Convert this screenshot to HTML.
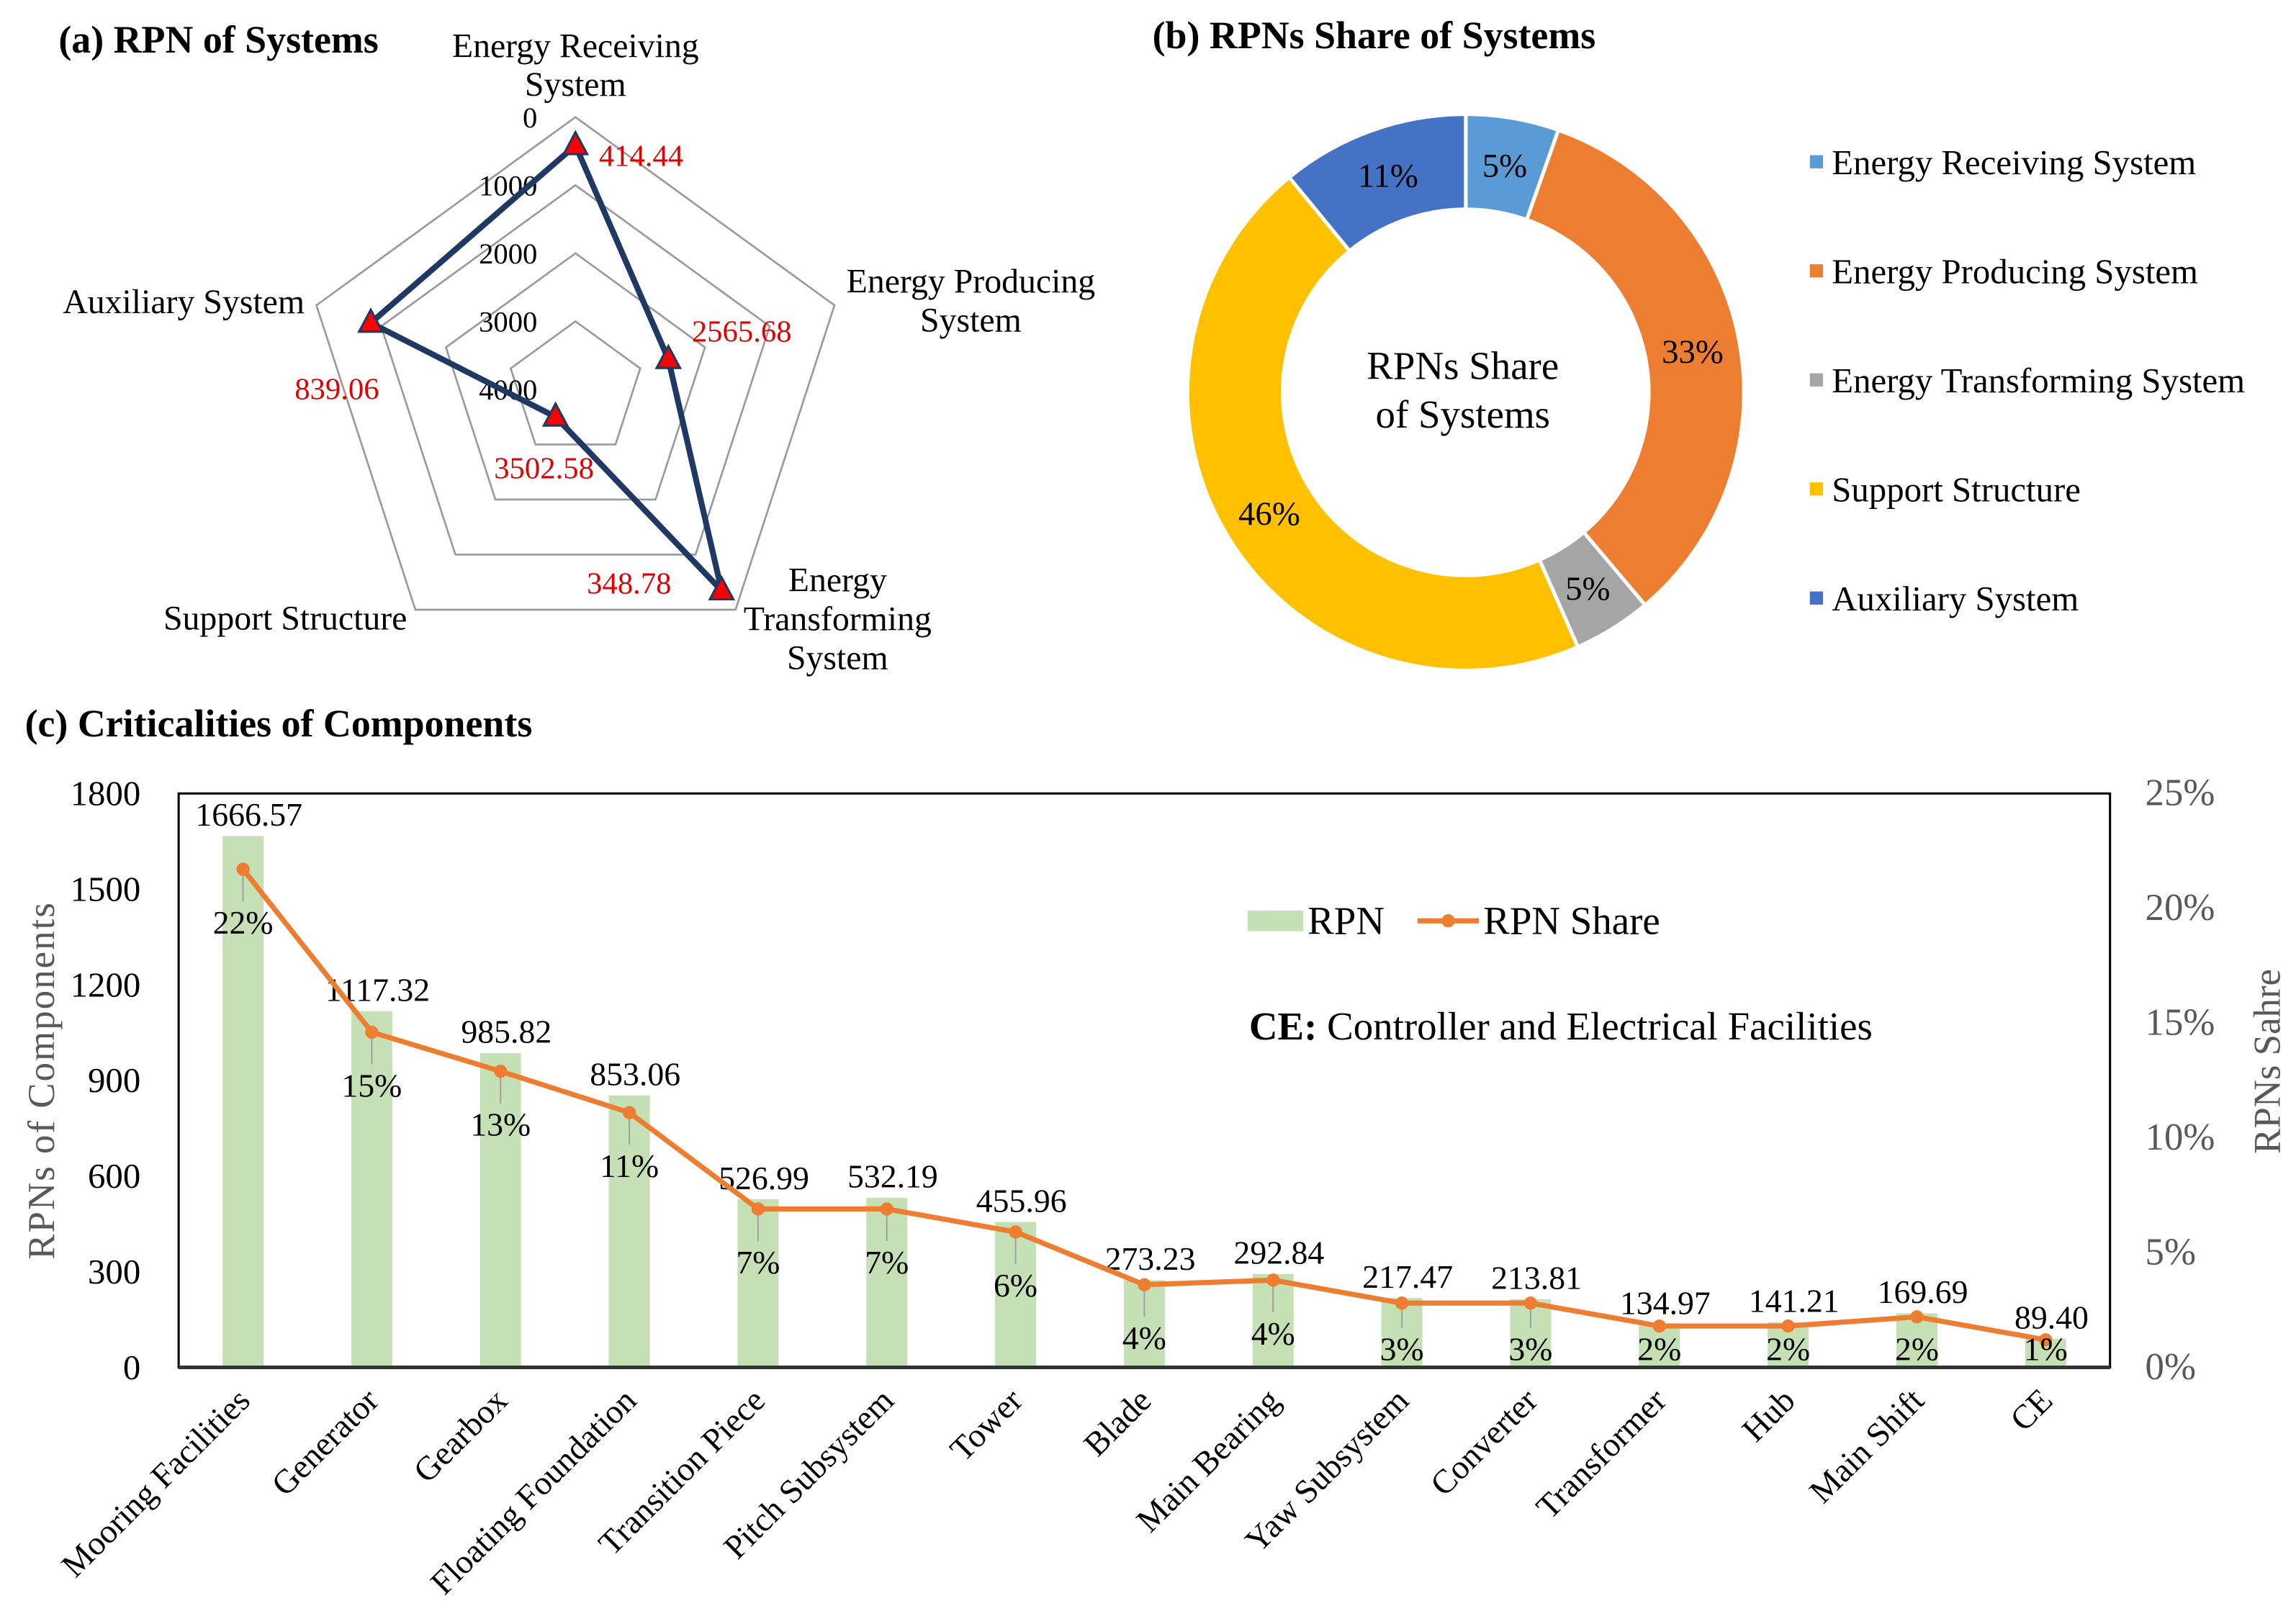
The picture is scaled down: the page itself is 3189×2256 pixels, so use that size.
<!DOCTYPE html>
<html><head><meta charset="utf-8"><style>
html,body{margin:0;padding:0;background:#fff;}
svg{display:block;font-family:"Liberation Serif",serif;}
</style></head><body>
<svg id="fig" width="3189" height="2256" viewBox="0 0 1568 1109.3" preserveAspectRatio="none" xmlns="http://www.w3.org/2000/svg">
<rect width="1568" height="1110" fill="#fff"/>
<text x="40" y="36" font-size="26.5" font-weight="bold">(a) RPN of Systems</text>
<text x="787" y="33" font-size="26.5" font-weight="bold">(b) RPNs Share of Systems</text>
<text x="17" y="503" font-size="26.5" font-weight="bold">(c) Criticalities of Components</text>
<g id="radar"></g>
<g id="donut"></g>
<g id="combo"></g>
</svg>
<script>
const NS="http://www.w3.org/2000/svg";
// ---- radar data ----
const sysNames=["Energy Receiving System","Energy Producing System","Energy Transforming System","Support Structure","Auxiliary System"];
const sysRPN=[414.44,2565.68,348.78,3502.58,839.06];
const sysLabels=["414.44","2565.68","348.78","3502.58","839.06"];
const radarTicks=[0,1000,2000,3000,4000];
// ---- donut data ----
const donutColors=["#5B9BD5","#ED7D31","#A5A5A5","#FFC000","#4472C4"];
const donutPct=["5%","33%","5%","46%","11%"];
const legendNames=["Energy Receiving System","Energy Producing System","Energy Transforming System","Support Structure","Auxiliary System"];
// ---- combo data ----
const comps=["Mooring Facilities","Generator","Gearbox","Floating Foundation","Transition Piece","Pitch Subsystem","Tower","Blade","Main Bearing","Yaw Subsystem","Converter","Transformer","Hub","Main Shift","CE"];
const compRPN=[1666.57,1117.32,985.82,853.06,526.99,532.19,455.96,273.23,292.84,217.47,213.81,134.97,141.21,169.69,89.40];
const compShare=[21.7,14.6,12.9,11.1,6.9,6.9,5.9,3.6,3.8,2.8,2.8,1.8,1.8,2.2,1.2];
const shareLabels=["22%","15%","13%","11%","7%","7%","6%","4%","4%","3%","3%","2%","2%","2%","1%"];
const leftTicks=[0,300,600,900,1200,1500,1800];
const rightTicks=[0,5,10,15,20,25];

function mk(tag,attrs,parent,txt){const e=document.createElementNS(NS,tag);for(const k in attrs)e.setAttribute(k,attrs[k]);if(txt!==undefined)e.textContent=txt;parent.appendChild(e);return e;}

// ===== Radar =====
(function(){
const g=document.getElementById('radar');
const cx=393,cy=266,R=186,maxV=4000;
const ang=i=>(-90+72*i)*Math.PI/180;
const rOf=v=>R*(1-v/maxV);
const pt=(i,v)=>[cx+rOf(v)*Math.cos(ang(i)),cy+rOf(v)*Math.sin(ang(i))];
radarTicks.forEach(t=>{
 const pts=sysNames.map((_,i)=>pt(i,t).join(',')).join(' ');
 const p=mk('polygon',{points:pts,fill:'none',stroke:'#9a9a9a','stroke-width':1.3},g);
 
 
 const [x,y]=pt(0,t);
 const tl=mk('text',{x:x-26,y:y+7,'font-size':20,'text-anchor':'end'},g,String(t));
 
 
});
const dp=sysRPN.map((v,i)=>pt(i,v).join(',')).join(' ');
const poly=mk('polygon',{points:dp,fill:'none',stroke:'#1F3864','stroke-width':4,'stroke-linejoin':'round'},g);


const lblOff=[[16,14],[16,-12],[-92,2],[-42,42],[-52,52]];
sysRPN.forEach((v,i)=>{
 const [x,y]=pt(i,v);
 const m=mk('polygon',{points:`${x},${y-9} ${x-8},${y+6} ${x+8},${y+6}`,fill:'#FF0000',stroke:'#1F3864','stroke-width':1.5},g);
 
 
 const l=mk('text',{x:x+lblOff[i][0],y:y+lblOff[i][1],'font-size':21,fill:'#E00000'},g,sysLabels[i]);
 
 
});
const axLab=[[[393,39],["Energy Receiving","System"],'middle'],[[663,200],["Energy Producing","System"],'middle'],[[572,404],["Energy","Transforming","System"],'middle'],[[278,430],["Support Structure"],'end'],[[208,214],["Auxiliary System"],'end']];
axLab.forEach(a=>{
 a[1].forEach((s,j)=>{
  const t=mk('text',{x:a[0][0],y:a[0][1]+j*26.5,'font-size':23.5,'text-anchor':a[2]},g,s);
  
  
 });
});
})();

// ===== Donut =====
(function(){
const g=document.getElementById('donut');
const cx=1001,cy=268,Ro=190,Ri=125;
const tot=sysRPN.reduce((a,b)=>a+b,0);
let a0=-Math.PI/2;
sysRPN.forEach((v,i)=>{
 const a1=a0+v/tot*2*Math.PI;
 const large=(a1-a0)>Math.PI?1:0;
 const p=(r,a)=>[cx+r*Math.cos(a),cy+r*Math.sin(a)];
 const [x1,y1]=p(Ro,a0),[x2,y2]=p(Ro,a1),[x3,y3]=p(Ri,a1),[x4,y4]=p(Ri,a0);
 const s=mk('path',{d:`M${x1},${y1} A${Ro},${Ro} 0 ${large} 1 ${x2},${y2} L${x3},${y3} A${Ri},${Ri} 0 ${large} 0 ${x4},${y4} Z`,fill:donutColors[i],stroke:'#fff','stroke-width':2.5},g);
 
 
 const am=(a0+a1)/2,[lx,ly]=p((Ro+Ri)/2,am);
 const t=mk('text',{x:lx,y:ly+8,'font-size':23,'text-anchor':'middle'},g,donutPct[i]);
 
 
 a0=a1;
});
const c1=mk('text',{x:cx-2,y:259,'font-size':27,'text-anchor':'middle'},g,'RPNs Share');


const c2=mk('text',{x:cx-2,y:292,'font-size':27,'text-anchor':'middle'},g,'of Systems');


legendNames.forEach((n,i)=>{
 const y=111+i*74.5;
 const r=mk('rect',{x:1236,y:y-5,width:9,height:9,fill:donutColors[i]},g);
 
 
 const t=mk('text',{x:1251,y:y+8,'font-size':24},g,n);
 
 
});
})();

// ===== Combo chart =====
(function(){
const g=document.getElementById('combo');
const L=122,Rr=1441,T=542,B=934;
const xC=i=>L+(Rr-L)/comps.length*(i+0.5);
const yL=v=>B-(v/1800)*(B-T);
const yR=v=>B-(v/25)*(B-T);
const box=mk('rect',{x:L,y:T,width:Rr-L,height:B-T,fill:'none',stroke:'#000','stroke-width':1.5},g);


leftTicks.forEach(t=>{
 const e=mk('text',{x:96,y:yL(t)+8,'font-size':24,'text-anchor':'end'},g,String(t));
 
 
});
rightTicks.forEach(t=>{
 const e=mk('text',{x:1465,y:yR(t)+8,'font-size':26,fill:'#595959'},g,t+'%');
 
 
});
compRPN.forEach((v,i)=>{
 const b=mk('rect',{x:xC(i)-14,y:yL(v),width:28,height:B-yL(v),fill:'#C5E0B4'},g);
 
 
 const t=mk('text',{x:xC(i)+4,y:yL(v)-7,'font-size':22.5,'text-anchor':'middle'},g,v.toFixed(2));
 
 
});
const base=mk('line',{x1:L,y1:B,x2:Rr,y2:B,stroke:'#333','stroke-width':2.5},g);


const lp=compShare.map((v,i)=>xC(i)+','+yR(v)).join(' ');
const ln=mk('polyline',{points:lp,fill:'none',stroke:'#ED7D31','stroke-width':3.5,'stroke-linejoin':'round'},g);


compShare.forEach((v,i)=>{
 const py=yR(v);
 const ly=Math.min(py+44,929);
 if(ly-py>30){
  const ll=mk('line',{x1:xC(i),y1:py+4,x2:xC(i),y2:ly-22,stroke:'#a0a0a0','stroke-width':1},g);
  
  
 }
 const c=mk('circle',{cx:xC(i),cy:py,r:4.5,fill:'#ED7D31'},g);
 
 
 const t=mk('text',{x:xC(i),y:ly,'font-size':22.5,'text-anchor':'middle'},g,shareLabels[i]);
 
 
});
comps.forEach((n,i)=>{
 const x=xC(i)+6,y=958;
 const t=mk('text',{x:x,y:y,'font-size':23,'text-anchor':'end',transform:`rotate(-45 ${x} ${y})`},g,n);
 
 
});
const yt=mk('text',{x:37,y:738,'font-size':26,fill:'#595959','text-anchor':'middle','letter-spacing':1,transform:'rotate(-90 37 738)'},g,'RPNs of Components');


const yt2=mk('text',{x:1557,y:725,'font-size':26,fill:'#595959','text-anchor':'middle',transform:'rotate(-90 1557 725)'},g,'RPNs Sahre');


const lr=mk('rect',{x:852,y:622,width:38,height:14,fill:'#C5E0B4'},g);


const lt1=mk('text',{x:893,y:638,'font-size':27},g,'RPN');


const ll2=mk('line',{x1:968,y1:629,x2:1010,y2:629,stroke:'#ED7D31','stroke-width':3.5},g);


const lc=mk('circle',{cx:989,cy:629,r:4.5,fill:'#ED7D31'},g);


const lt2=mk('text',{x:1013,y:638,'font-size':27},g,'RPN Share');


const note=mk('text',{x:853,y:710,'font-size':27},g);


mk('tspan',{'font-weight':'bold'},note,'CE:');
mk('tspan',{},note,' Controller and Electrical Facilities');
})();
</script>
</body></html>
